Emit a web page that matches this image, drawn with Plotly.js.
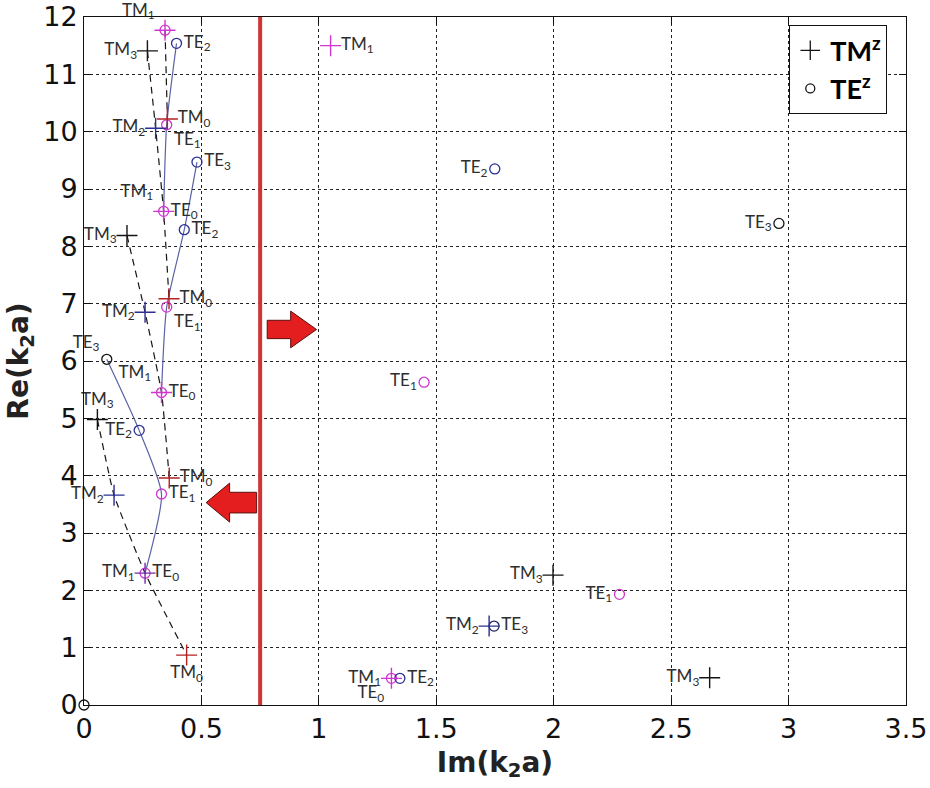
<!DOCTYPE html>
<html>
<head>
<meta charset="utf-8">
<script src="https://cdn.plot.ly/plotly-3.0.1.min.js"></script>
<style>
  html, body { margin: 0; padding: 0; background: #fff; }
  #chart { width: 930px; height: 788px; }
</style>
</head>
<body>
<div id="chart"></div>
<script>
// ---- TM^z roots: mode order, Im(k2a), Re(k2a) ----
const tmOrder = [1, 0, 3, 2, 1, 0, 3, 2, 1, 0, 3, 2, 1, 0, 1, 3, 2, 3, 1];
const tmIm = [0.345, 0.355, 0.270, 0.305, 0.339, 0.362, 0.183, 0.260, 0.330, 0.363,
              0.057, 0.128, 0.260, 0.437, 1.050, 1.997, 1.725, 2.664, 1.309];
const tmRe = [11.77, 10.22, 11.41, 10.06, 8.61, 7.085, 8.19, 6.85, 5.45, 3.96,
              4.98, 3.66, 2.30, 0.87, 11.50, 2.265, 1.376, 0.476, 0.465];

// ---- TE^z roots: mode order (null = unlabelled), Im(k2a), Re(k2a) ----
const teOrder = [null, 2, 1, 0, 3, 2, 1, 0, 3, 2, 1, 0, null, 2, 3, 1, 1, 3, 0, 2];
const teIm = [0.345, 0.394, 0.352, 0.339, 0.481, 0.427, 0.352, 0.330, 0.097, 0.235,
              0.330, 0.260, 0.000, 1.749, 2.959, 1.448, 2.280, 1.746, 1.309, 1.345];
const teRe = [11.77, 11.54, 10.12, 8.61, 9.47, 8.29, 6.94, 5.45, 6.03, 4.79,
              3.68, 2.30, 0.00, 9.35, 8.40, 5.63, 1.93, 1.376, 0.465, 0.465];

// roots that belong to the same branch (indices into the arrays above)
const tmBranches = [[0, 1], [2, 3, 4, 5], [6, 7, 8, 9], [10, 11, 12, 13]];
const teBranches = [[1, 2, 3], [4, 5, 6, 7], [8, 9, 10, 11]];

// boundary Im(k2a) value drawn as the red vertical line
const boundaryIm = 0.75;

// ---- styling ----
const MAG = '#cf36cf', RED = '#b52222', BLU = '#2b2f93', BLK = '#151515', PUR = '#6f2fa8';
const tmColors = [MAG, RED, BLK, BLU, MAG, RED, BLK, BLU, MAG, RED,
                  BLK, BLU, PUR, RED, MAG, BLK, BLU, BLK, MAG];
const teColors = [MAG, BLU, MAG, MAG, BLU, BLU, MAG, MAG, BLK, BLU,
                  MAG, MAG, BLK, BLU, BLK, MAG, MAG, '#1e2260', MAG, BLU];
const tmTextPos = ['top left', 'middle right', 'middle left', 'middle left', 'top left',
                   'middle right', 'middle left', 'middle left', 'top left', 'middle right',
                   'top center', 'middle left', 'middle left', 'bottom center', 'middle right',
                   'middle left', 'middle left', 'middle left', 'middle left'];
const teTextPos = ['middle right', 'middle right', 'bottom right', 'middle right', 'middle right',
                   'middle right', 'bottom right', 'middle right', 'top left', 'middle left',
                   'middle right', 'middle right', 'middle right', 'middle left', 'middle left',
                   'middle left', 'middle left', 'middle right', 'bottom left', 'middle right'];

const LABEL_FONT = { family: 'Lato, "Open Sans", sans-serif', size: 17, color: '#2e2e2e' };
const AXIS_FONT = 'DejaVu Sans, Arial, sans-serif';

const lbl = (base, n) => (n === null ? '' : base + '<sub>' + n + '</sub>');

const traces = [];

// TE branches (solid)
teBranches.forEach(br => {
  traces.push({
    x: br.map(i => teIm[i]), y: br.map(i => teRe[i]),
    mode: 'lines', type: 'scatter', showlegend: false, hoverinfo: 'skip',
    line: { color: '#5a62a6', width: 1.2, shape: 'spline', smoothing: 0.6 }
  });
});

// TM branches (dashed)
tmBranches.forEach(br => {
  traces.push({
    x: br.map(i => tmIm[i]), y: br.map(i => tmRe[i]),
    mode: 'lines', type: 'scatter', showlegend: false, hoverinfo: 'skip',
    line: { color: BLK, width: 1.2, dash: '7px,5px', shape: 'spline', smoothing: 0.4 }
  });
});

// TE roots
traces.push({
  x: teIm, y: teRe, type: 'scatter', mode: 'markers+text', showlegend: false,
  cliponaxis: false,
  text: teOrder.map(n => lbl('TE', n)), textposition: teTextPos, textfont: LABEL_FONT,
  marker: { symbol: 'circle-open', size: 10, color: teColors, line: { width: 1.3, color: teColors } }
});

// TM roots
traces.push({
  x: tmIm, y: tmRe, type: 'scatter', mode: 'markers+text', showlegend: false,
  cliponaxis: false,
  text: tmOrder.map(n => lbl('TM', n)), textposition: tmTextPos, textfont: LABEL_FONT,
  marker: { symbol: 'cross-thin-open', size: 15, color: tmColors, line: { width: 1.4, color: tmColors } }
});

// legend keys
traces.push({
  x: [null], y: [null], type: 'scatter', mode: 'markers', name: '<b>TM<sup>z</sup></b>',
  marker: { symbol: 'cross-thin-open', size: 14, color: BLK, line: { width: 1.3, color: BLK } }
});
traces.push({
  x: [null], y: [null], type: 'scatter', mode: 'markers', name: '<b>TE<sup>z</sup></b>',
  marker: { symbol: 'circle-open', size: 9, color: BLK, line: { width: 1.3, color: BLK } }
});

// block arrow built in data units: tip, length, head length, half widths
function blockArrow(tipX, tipY, dir, len, headLen, bodyHalf, headHalf) {
  const bx = tipX - dir * len, hx = tipX - dir * headLen;
  const pts = [[bx, tipY + bodyHalf], [hx, tipY + bodyHalf], [hx, tipY + headHalf], [tipX, tipY],
               [hx, tipY - headHalf], [hx, tipY - bodyHalf], [bx, tipY - bodyHalf]];
  return 'M ' + pts.map(p => p[0] + ',' + p[1]).join(' L ') + ' Z';
}

const arrowStyle = { type: 'path', xref: 'x', yref: 'y', fillcolor: '#e41e1e',
                     line: { color: '#5a1010', width: 1 }, layer: 'above' };

const layout = {
  width: 930, height: 788,
  margin: { l: 84, r: 24, t: 17, b: 83 },
  paper_bgcolor: '#fff', plot_bgcolor: '#fff',
  font: { family: AXIS_FONT, color: '#111' },
  xaxis: {
    range: [0, 3.5], dtick: 0.5, tick0: 0,
    showgrid: true, gridcolor: '#222', griddash: 'dot', gridwidth: 1,
    zeroline: false, showline: true, linecolor: '#111', linewidth: 1, mirror: 'ticks',
    ticks: 'inside', ticklen: 7, tickcolor: '#111',
    tickfont: { family: AXIS_FONT, size: 27, color: '#111' },
    title: { text: '<b>Im(k<sub>2</sub>a)</b>', font: { family: AXIS_FONT, size: 28, color: '#222' }, standoff: 8 }
  },
  yaxis: {
    range: [0, 12], dtick: 1, tick0: 0,
    showgrid: true, gridcolor: '#222', griddash: 'dot', gridwidth: 1,
    zeroline: false, showline: true, linecolor: '#111', linewidth: 1, mirror: 'ticks',
    ticks: 'inside', ticklen: 7, tickcolor: '#111',
    tickfont: { family: AXIS_FONT, size: 27, color: '#111' },
    title: { text: '<b>Re(k<sub>2</sub>a)</b>', font: { family: AXIS_FONT, size: 28, color: '#222' }, standoff: 6 }
  },
  showlegend: true,
  legend: {
    x: 0.858, y: 0.988, xanchor: 'left', yanchor: 'top',
    bgcolor: '#fff', bordercolor: '#111', borderwidth: 1,
    font: { family: 'Lato, "Open Sans", sans-serif', size: 27, color: '#000' },
    itemwidth: 30, tracegroupgap: 0
  },
  shapes: [
    { type: 'line', xref: 'x', yref: 'y', x0: boundaryIm, x1: boundaryIm, y0: 0, y1: 12,
      line: { color: '#d03535', width: 4 }, layer: 'above' },
    Object.assign({ path: blockArrow(0.99, 6.55, 1, 0.21, 0.11, 0.16, 0.32) }, arrowStyle),
    Object.assign({ path: blockArrow(0.52, 3.53, -1, 0.215, 0.10, 0.18, 0.34) }, arrowStyle)
  ]
};

Plotly.newPlot('chart', traces, layout, { staticPlot: true, displayModeBar: false });
</script>
</body>
</html>
